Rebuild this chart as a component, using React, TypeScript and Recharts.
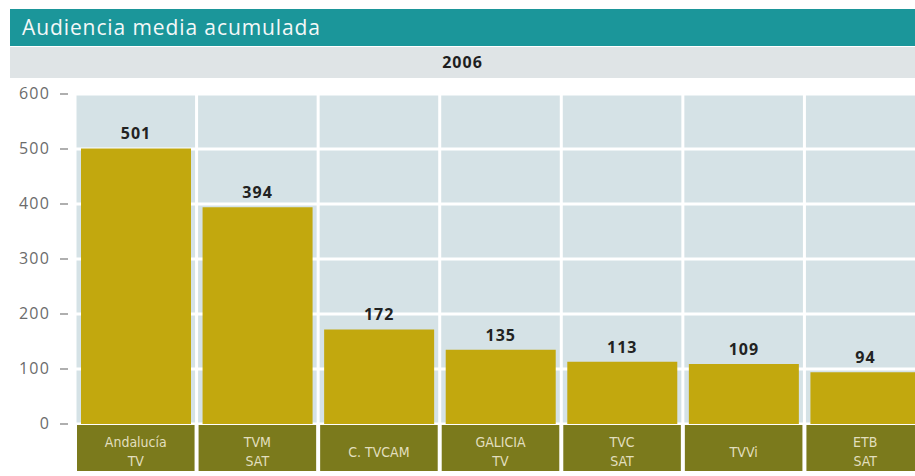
import React from "react";
import { Bar, BarChart, CartesianGrid, LabelList, XAxis, YAxis } from "recharts";

const categories = ["Andalucía\nTV", "TVM\nSAT", "C. TVCAM", "GALICIA\nTV", "TVC\nSAT", "TVVi", "ETB\nSAT"];
const audience = [501, 394, 172, 135, 113, 109, 94];
const yTicks = [0, 100, 200, 300, 400, 500, 600];

const data = categories.map((name, i) => ({ name, value: audience[i] }));

const CHART_W = 926;
const CHART_H = 476;
const Y_AXIS_W = 75;
const TOP = 94;
const X_AXIS_H = 52;
const BAND = (CHART_W - Y_AXIS_W) / categories.length;
const GAP = 4;

const FONT = "'Open Sans', 'Noto Sans', sans-serif";

function YTick({ x, y, payload }: any) {
  return (
    <g>
      <text
        x={x - 25}
        y={y}
        dy={5}
        textAnchor="end"
        fontSize={16}
        letterSpacing={1.2}
        fill="#6b6b6b"
        fontFamily={FONT}
      >
        {payload.value}
      </text>
      <line x1={x - 15} x2={x - 7} y1={y} y2={y} stroke="#7a7a7a" strokeWidth={1.2} />
    </g>
  );
}

function XTick({ x, y, payload }: any) {
  const lines = String(payload.value).split("\n");
  const w = BAND - GAP;
  const startY = lines.length === 1 ? 457 : 447;
  return (
    <g>
      <rect x={x - w / 2} y={y + 1} width={w} height={46} fill="#7b7a1c" />
      {lines.map((line, i) => (
        <text
          key={i}
          x={x}
          y={startY + i * 19}
          textAnchor="middle"
          fontSize={14}
          fill="#e2dfbf"
          fontFamily="'DejaVu Sans Condensed', 'Liberation Sans Narrow', sans-serif"
        >
          {line}
        </text>
      ))}
    </g>
  );
}

export default function App() {
  return (
    <div
      style={{
        position: "fixed",
        left: 0,
        top: 0,
        width: 915,
        height: 476,
        overflow: "hidden",
        background: "#ffffff",
        fontFamily: FONT,
      }}
    >
      <div
        style={{
          position: "absolute",
          left: 10,
          top: 9,
          width: 905,
          height: 37,
          background: "#1b969a",
          color: "#f4f8f8",
          fontSize: 21,
          lineHeight: "37px",
          paddingLeft: 12,
          boxSizing: "border-box",
          letterSpacing: 0.9,
        }}
      >
        Audiencia media acumulada
      </div>
      <div
        style={{
          position: "absolute",
          left: 10,
          top: 47,
          width: 905,
          height: 31,
          background: "#dfe4e6",
          color: "#1e1e1e",
          fontSize: 16,
          fontWeight: 700,
          lineHeight: "31px",
          textAlign: "center",
          letterSpacing: 1,
          boxSizing: "border-box",
        }}
      >
        2006
      </div>
      <div style={{ position: "absolute", left: 0, top: 0 }}>
        <BarChart
          width={CHART_W}
          height={CHART_H}
          data={data}
          margin={{ top: TOP, right: 0, bottom: 0, left: 0 }}
          barCategoryGap={6}
        >
          <CartesianGrid
            fill="#d5e2e6"
            stroke="#ffffff"
            strokeWidth={3}
            verticalCoordinatesGenerator={({ offset }: any) =>
              categories.map((_, i) => offset.left + (i * offset.width) / categories.length)
            }
          />
          <XAxis
            dataKey="name"
            height={X_AXIS_H}
            axisLine={false}
            tickLine={false}
            tickSize={0}
            tickMargin={0}
            interval={0}
            tick={<XTick />}
          />
          <YAxis
            width={Y_AXIS_W}
            domain={[0, 600]}
            ticks={yTicks}
            axisLine={false}
            tickLine={false}
            tickSize={0}
            tickMargin={0}
            tick={<YTick />}
          />
          <Bar dataKey="value" fill="#c2a80e" isAnimationActive={false}>
            <LabelList
              dataKey="value"
              position="top"
              offset={9}
              fill="#222222"
              fontSize={16}
              fontWeight={700}
              letterSpacing={1}
              fontFamily={FONT}
            />
          </Bar>
        </BarChart>
      </div>
    </div>
  );
}
